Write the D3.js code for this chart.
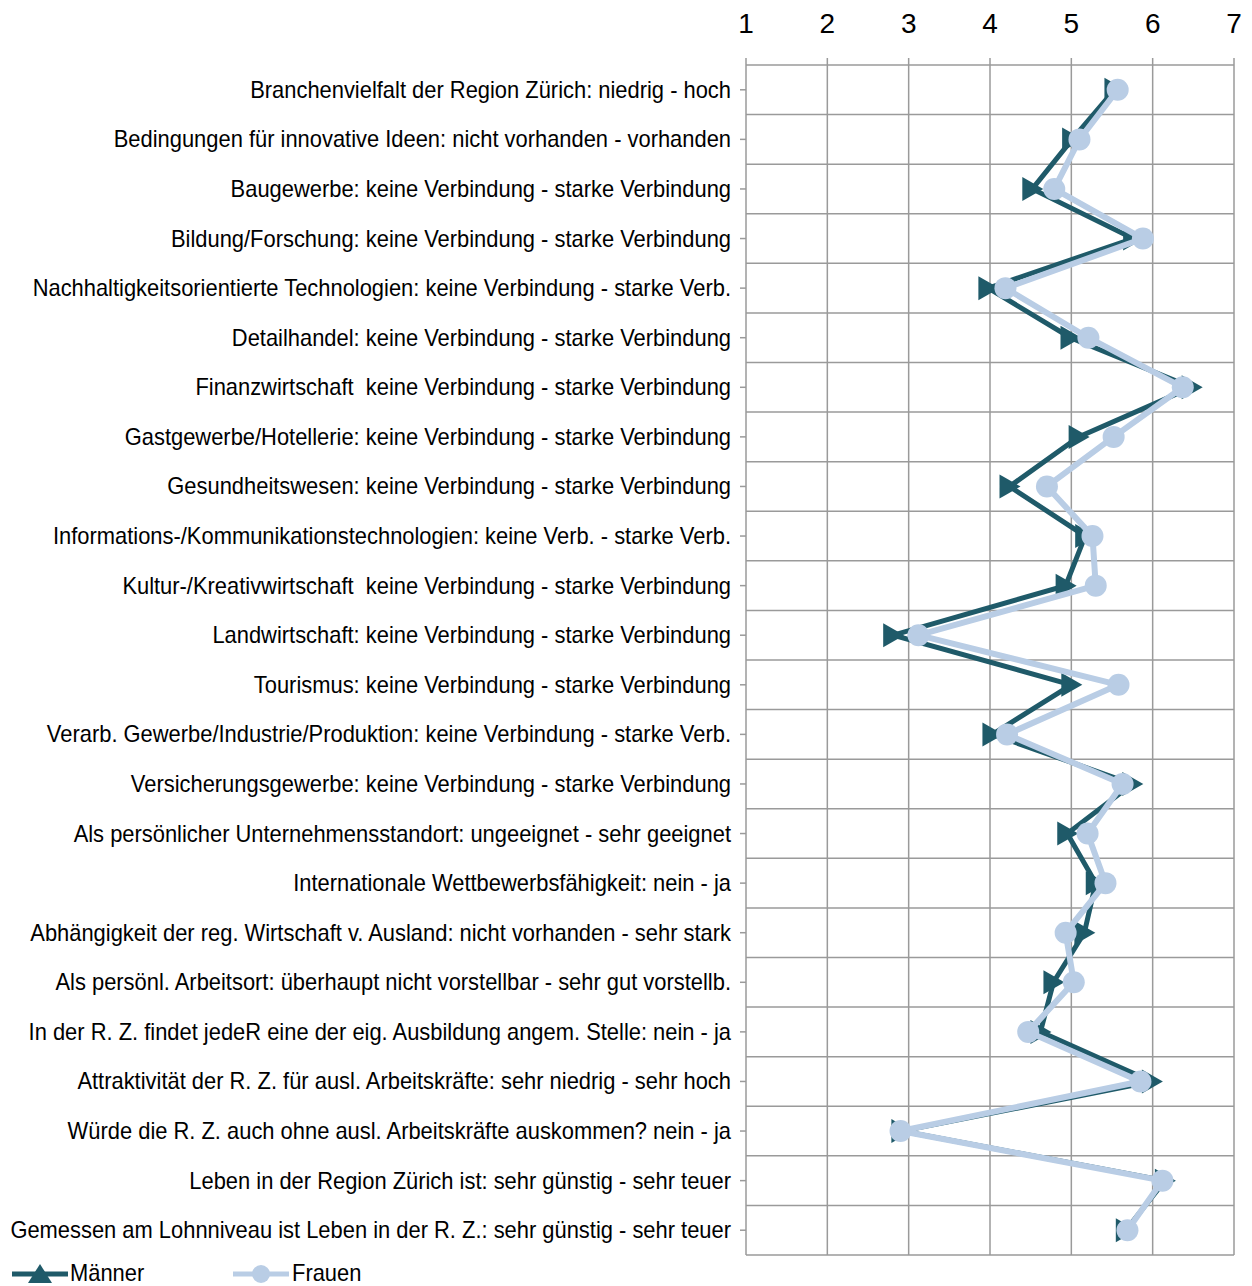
<!DOCTYPE html>
<html>
<head>
<meta charset="utf-8">
<script src="https://cdn.jsdelivr.net/npm/d3@7"></script>
<style>
  body { margin: 0; background: #fff; }
  text { font-family: "Liberation Sans", Arial, sans-serif; fill: #000; }
</style>
</head>
<body>
<script>
var w = 1252;
var h = 1286;

// item labels (top to bottom)
var labels = [
    "Branchenvielfalt der Region Zürich: niedrig - hoch",
    "Bedingungen für innovative Ideen: nicht vorhanden - vorhanden",
    "Baugewerbe: keine Verbindung - starke Verbindung",
    "Bildung/Forschung: keine Verbindung - starke Verbindung",
    "Nachhaltigkeitsorientierte Technologien: keine Verbindung - starke Verb.",
    "Detailhandel: keine Verbindung - starke Verbindung",
    "Finanzwirtschaft  keine Verbindung - starke Verbindung",
    "Gastgewerbe/Hotellerie: keine Verbindung - starke Verbindung",
    "Gesundheitswesen: keine Verbindung - starke Verbindung",
    "Informations-/Kommunikationstechnologien: keine Verb. - starke Verb.",
    "Kultur-/Kreativwirtschaft  keine Verbindung - starke Verbindung",
    "Landwirtschaft: keine Verbindung - starke Verbindung",
    "Tourismus: keine Verbindung - starke Verbindung",
    "Verarb. Gewerbe/Industrie/Produktion: keine Verbindung - starke Verb.",
    "Versicherungsgewerbe: keine Verbindung - starke Verbindung",
    "Als persönlicher Unternehmensstandort: ungeeignet - sehr geeignet",
    "Internationale Wettbewerbsfähigkeit: nein - ja",
    "Abhängigkeit der reg. Wirtschaft v. Ausland: nicht vorhanden - sehr stark",
    "Als persönl. Arbeitsort: überhaupt nicht vorstellbar - sehr gut vorstellb.",
    "In der R. Z. findet jedeR eine der eig. Ausbildung angem. Stelle: nein - ja",
    "Attraktivität der R. Z. für ausl. Arbeitskräfte: sehr niedrig - sehr hoch",
    "Würde die R. Z. auch ohne ausl. Arbeitskräfte auskommen? nein - ja",
    "Leben in der Region Zürich ist: sehr günstig - sehr teuer",
    "Gemessen am Lohnniveau ist Leben in der R. Z.: sehr günstig - sehr teuer"
];

// mean ratings
var maenner = [5.53, 5.01, 4.52, 5.76, 3.98, 4.99, 6.48, 5.09, 4.24, 5.17, 4.93, 2.81,
               5.0, 4.03, 5.75, 4.95, 5.3, 5.16, 4.78, 4.62, 5.99, 2.91, 6.15, 5.67];
var frauen  = [5.57, 5.1, 4.79, 5.88, 4.19, 5.21, 6.37, 5.52, 4.7, 5.26, 5.3, 3.12,
               5.58, 4.21, 5.63, 5.2, 5.42, 4.93, 5.03, 4.47, 5.85, 2.9, 6.12, 5.69];

var ticks = [1, 2, 3, 4, 5, 6, 7];

var darkCol = "#1f5a69";
var lightCol = "#b9cde5";
var gridCol = "#9a9a9a";

var plotLeft = 746, plotRight = 1234, plotTop = 65, plotBottom = 1255;

var xScale = d3.scaleLinear()
    .domain([1, 7])
    .range([plotLeft, plotRight]);

var yScale = d3.scaleBand()
    .domain(d3.range(labels.length))
    .range([plotTop, plotBottom]);

var yMid = function(d, i) { return yScale(i) + yScale.bandwidth() / 2; };

var svg = d3.select("body")
    .append("svg")
    .attr("width", w)
    .attr("height", h);

// grid: horizontal lines at band edges
var edges = d3.range(labels.length + 1).map(function(i) {
    return i < labels.length ? yScale(i) : plotBottom;
});
svg.append("g")
    .selectAll("line")
    .data(edges)
    .enter()
    .append("line")
    .attr("x1", plotLeft).attr("x2", plotRight)
    .attr("y1", function(d) { return d; })
    .attr("y2", function(d) { return d; })
    .attr("stroke", gridCol)
    .attr("stroke-width", 1.5);

// vertical grid + small ticks above
svg.append("g")
    .selectAll("line")
    .data(ticks)
    .enter()
    .append("line")
    .attr("x1", function(d) { return xScale(d); })
    .attr("x2", function(d) { return xScale(d); })
    .attr("y1", plotTop - 7)
    .attr("y2", plotBottom)
    .attr("stroke", gridCol)
    .attr("stroke-width", 1.5);

// small ticks left of the category axis
svg.append("g")
    .selectAll("line")
    .data(labels)
    .enter()
    .append("line")
    .attr("x1", plotLeft - 6).attr("x2", plotLeft)
    .attr("y1", yMid).attr("y2", yMid)
    .attr("stroke", gridCol)
    .attr("stroke-width", 1.5);

// tick labels on top
svg.append("g")
    .selectAll("text")
    .data(ticks)
    .enter()
    .append("text")
    .attr("x", function(d) { return xScale(d); })
    .attr("y", 33)
    .attr("text-anchor", "middle")
    .style("font-size", "28px")
    .text(function(d) { return d; });

// category labels, squeezed horizontally like the original narrow font
var labelTexts = svg.append("g")
    .selectAll("text")
    .data(labels)
    .enter()
    .append("text")
    .attr("text-anchor", "end")
    .style("font-size", "24px")
    .style("white-space", "pre")
    .text(function(d) { return d; });

var sx = 481 / labelTexts.nodes()[0].getComputedTextLength();
labelTexts.attr("transform", function(d, i) {
    return "translate(731," + (yMid(d, i) + 8) + ") scale(" + sx + ",1)";
});

// series
var line = d3.line()
    .x(function(d) { return xScale(d); })
    .y(function(d, i) { return yMid(d, i); });

var triRight = "M-10,-12L11,0L-10,12Z";
var triUp = "M0,-10L12,9L-12,9Z";

svg.append("path")
    .datum(maenner)
    .attr("d", line)
    .attr("fill", "none")
    .attr("stroke", darkCol)
    .attr("stroke-width", 5)
    .attr("stroke-linejoin", "miter");

svg.append("g")
    .selectAll("path")
    .data(maenner)
    .enter()
    .append("path")
    .attr("d", triRight)
    .attr("transform", function(d, i) {
        return "translate(" + xScale(d) + "," + yMid(d, i) + ")";
    })
    .attr("fill", darkCol);

svg.append("path")
    .datum(frauen)
    .attr("d", line)
    .attr("fill", "none")
    .attr("stroke", lightCol)
    .attr("stroke-width", 6)
    .attr("stroke-linejoin", "round");

svg.append("g")
    .selectAll("circle")
    .data(frauen)
    .enter()
    .append("circle")
    .attr("cx", function(d) { return xScale(d); })
    .attr("cy", yMid)
    .attr("r", 11)
    .attr("fill", lightCol);

// legend
var legY = 1274;
var leg = svg.append("g");
leg.append("line")
    .attr("x1", 12).attr("x2", 68)
    .attr("y1", legY).attr("y2", legY)
    .attr("stroke", darkCol).attr("stroke-width", 5);
leg.append("path")
    .attr("d", triUp)
    .attr("transform", "translate(40," + legY + ")")
    .attr("fill", darkCol);
leg.append("text")
    .attr("transform", "translate(70," + (legY + 7) + ") scale(" + sx + ",1)")
    .style("font-size", "24px")
    .text("Männer");

leg.append("line")
    .attr("x1", 233).attr("x2", 289)
    .attr("y1", legY).attr("y2", legY)
    .attr("stroke", lightCol).attr("stroke-width", 5);
leg.append("circle")
    .attr("cx", 261).attr("cy", legY).attr("r", 9)
    .attr("fill", lightCol);
leg.append("text")
    .attr("transform", "translate(292," + (legY + 7) + ") scale(" + sx + ",1)")
    .style("font-size", "24px")
    .text("Frauen");
</script>
</body>
</html>
